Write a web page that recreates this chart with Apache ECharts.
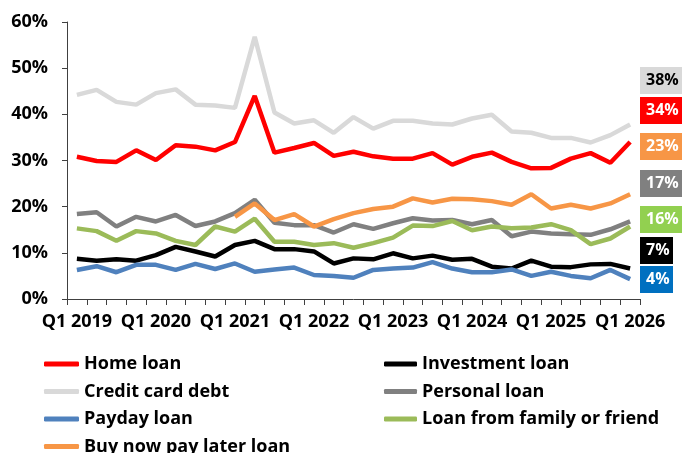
<!DOCTYPE html>
<html>
<head>
<meta charset="utf-8">
<script src="https://cdn.jsdelivr.net/npm/echarts@6/dist/echarts.min.js"></script>
<style>
  html, body { margin: 0; padding: 0; background: #ffffff; }
  #chart { width: 682px; height: 453px; }
</style>
</head>
<body>
<div id="chart"></div>
<script>
// Quarterly share (%) of respondents holding each type of debt
const quarters = [
  'Q1 2019', 'Q2 2019', 'Q3 2019', 'Q4 2019',
  'Q1 2020', 'Q2 2020', 'Q3 2020', 'Q4 2020',
  'Q1 2021', 'Q2 2021', 'Q3 2021', 'Q4 2021',
  'Q1 2022', 'Q2 2022', 'Q3 2022', 'Q4 2022',
  'Q1 2023', 'Q2 2023', 'Q3 2023', 'Q4 2023',
  'Q1 2024', 'Q2 2024', 'Q3 2024', 'Q4 2024',
  'Q1 2025', 'Q2 2025', 'Q3 2025', 'Q4 2025',
  'Q1 2026'
];

const homeLoan = [30.8, 29.9, 29.7, 32.2, 30.1, 33.3, 33.0, 32.2, 34.0, 44.0,
  31.7, 32.7, 33.8, 31.0, 31.9, 30.9, 30.4, 30.4, 31.6, 29.1,
  30.8, 31.7, 29.7, 28.3, 28.4, 30.4, 31.6, 29.5, 34.0];

const investmentLoan = [8.7, 8.3, 8.6, 8.3, 9.5, 11.3, 10.3, 9.2, 11.7, 12.6,
  10.8, 10.8, 10.3, 7.7, 8.8, 8.6, 9.9, 8.8, 9.4, 8.5,
  8.7, 7.0, 6.6, 8.3, 7.0, 6.9, 7.5, 7.6, 6.6];

const creditCardDebt = [44.2, 45.3, 42.7, 42.1, 44.6, 45.4, 42.1, 41.9, 41.4, 56.8,
  40.4, 38.0, 38.7, 36.0, 39.4, 36.9, 38.6, 38.6, 38.0, 37.8,
  39.1, 39.9, 36.3, 36.0, 34.9, 34.9, 33.9, 35.5, 37.8];

const personalLoan = [18.4, 18.8, 15.7, 17.8, 16.8, 18.2, 15.8, 16.8, 18.6, 21.5,
  16.5, 16.0, 16.0, 14.4, 16.2, 15.2, 16.4, 17.5, 17.0, 17.1,
  16.2, 17.1, 13.6, 14.6, 14.2, 14.0, 13.9, 15.1, 16.8];

const paydayLoan = [6.3, 7.1, 5.8, 7.4, 7.4, 6.3, 7.6, 6.5, 7.7, 5.9,
  6.4, 6.8, 5.2, 5.0, 4.6, 6.3, 6.6, 6.8, 8.0, 6.6,
  5.8, 5.8, 6.4, 5.0, 5.9, 5.0, 4.5, 6.3, 4.3];

const familyLoan = [15.3, 14.7, 12.6, 14.7, 14.2, 12.6, 11.7, 15.7, 14.6, 17.4,
  12.4, 12.4, 11.7, 12.1, 11.1, 12.1, 13.3, 15.9, 15.8, 16.9,
  14.9, 15.7, 15.3, 15.5, 16.2, 14.9, 11.9, 13.1, 15.7];

const bnplLoan = [null, null, null, null, null, null, null, null, 17.8, 20.7,
  17.1, 18.4, 15.7, 17.3, 18.6, 19.5, 20.0, 21.8, 20.9, 21.7,
  21.6, 21.2, 20.4, 22.7, 19.6, 20.4, 19.6, 20.7, 22.7];

const yTicks = { min: 0, max: 60, step: 10 };

const FONT = '"Open Sans", "Liberation Sans", sans-serif';

const seriesDefs = [
  { name: 'Home loan', data: homeLoan, color: '#ff0000' },
  { name: 'Investment loan', data: investmentLoan, color: '#000000' },
  { name: 'Credit card debt', data: creditCardDebt, color: '#d9d9d9' },
  { name: 'Personal loan', data: personalLoan, color: '#808080' },
  { name: 'Payday loan', data: paydayLoan, color: '#4f81bd' },
  { name: 'Loan from family or friend', data: familyLoan, color: '#9bbb59' },
  { name: 'Buy now pay later loan', data: bnplLoan, color: '#f79646' }
];

// Latest-value badges stacked at the right edge
const badges = [
  { data: creditCardDebt, bg: '#d9d9d9', fg: '#000000', top: 67, width: 44 },
  { data: homeLoan, bg: '#ff0000', fg: '#ffffff', top: 97, width: 44 },
  { data: bnplLoan, bg: '#f79646', fg: '#ffffff', top: 133, width: 44 },
  { data: personalLoan, bg: '#808080', fg: '#ffffff', top: 170, width: 44 },
  { data: familyLoan, bg: '#92d050', fg: '#ffffff', top: 206, width: 44 },
  { data: investmentLoan, bg: '#000000', fg: '#ffffff', top: 237, width: 33 },
  { data: paydayLoan, bg: '#0070c0', fg: '#ffffff', top: 266, width: 33 }
];

const badgeGraphics = badges.map(b => ({
  type: 'group',
  left: 640,
  top: b.top,
  children: [
    { type: 'rect', shape: { x: 0, y: 0, width: b.width, height: 27 }, style: { fill: b.bg } },
    {
      type: 'text', x: 6, y: 13.5,
      style: {
        text: Math.round(b.data[b.data.length - 1]) + '%',
        fill: b.fg, font: 'bold 16px ' + FONT,
        verticalAlign: 'middle', align: 'left'
      }
    }
  ]
}));

const legendText = { fontFamily: FONT, fontWeight: 'bold', fontSize: 18, color: '#000000', lineHeight: 18 };

const chart = echarts.init(document.getElementById('chart'), null, { renderer: 'canvas' });

chart.setOption({
  animation: false,
  backgroundColor: '#ffffff',
  grid: { left: 67, right: 42, top: 22, bottom: 154, containLabel: false },
  legend: [
    {
      data: ['Home loan', 'Credit card debt', 'Payday loan', 'Buy now pay later loan'],
      orient: 'vertical', left: 44, top: 355, height: 104, padding: 0,
      itemWidth: 35, itemHeight: 5, itemGap: 9.5, icon: 'roundRect',
      textStyle: legendText, selectedMode: false
    },
    {
      data: ['Investment loan', 'Personal loan', 'Loan from family or friend'],
      orient: 'vertical', left: 384, top: 355, height: 104, padding: 0,
      itemWidth: 33, itemHeight: 5, itemGap: 9.5, icon: 'roundRect',
      textStyle: legendText, selectedMode: false
    }
  ],
  xAxis: {
    type: 'category',
    data: quarters,
    boundaryGap: true,
    axisLine: { lineStyle: { color: '#404040', width: 1 } },
    axisTick: { show: true, interval: 0, length: 6, lineStyle: { color: '#404040' } },
    axisLabel: {
      interval: 3, margin: 14,
      fontFamily: FONT, fontWeight: 'bold', fontSize: 18, color: '#000000'
    },
    splitLine: { show: false }
  },
  yAxis: {
    type: 'value',
    min: yTicks.min, max: yTicks.max, interval: yTicks.step,
    axisLine: { show: true, lineStyle: { color: '#404040', width: 1 } },
    axisTick: { show: true, length: 5, lineStyle: { color: '#404040' } },
    axisLabel: {
      formatter: '{value}%', margin: 19,
      fontFamily: FONT, fontWeight: 'bold', fontSize: 18, color: '#000000'
    },
    splitLine: { show: false }
  },
  series: seriesDefs.map(s => ({
    name: s.name,
    type: 'line',
    data: s.data,
    symbol: 'none',
    connectNulls: false,
    color: s.color,
    lineStyle: { color: s.color, width: 4.5 },
    emphasis: { disabled: true }
  })),
  graphic: badgeGraphics
});
</script>
</body>
</html>
